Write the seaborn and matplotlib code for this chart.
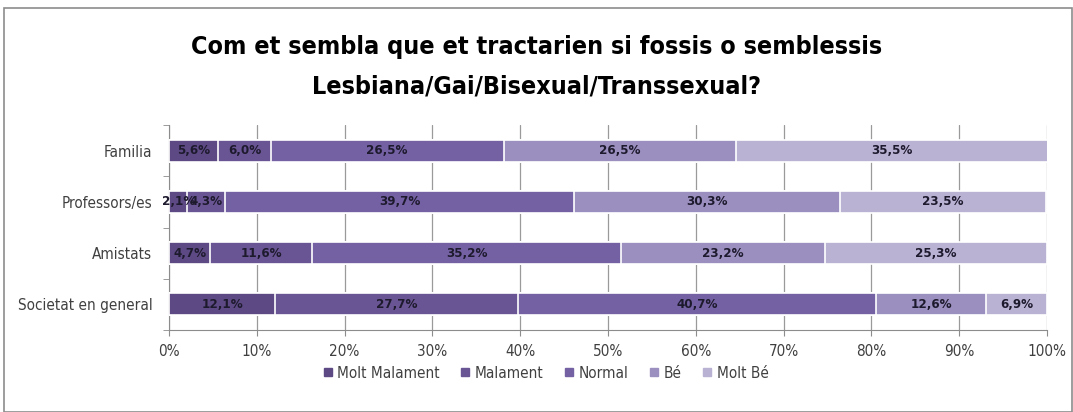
import matplotlib
matplotlib.use('Agg')
import matplotlib.pyplot as plt
import seaborn as sns
import numpy as np
import pandas as pd
from matplotlib.lines import Line2D
from matplotlib.patches import Rectangle

# Data
groups = ['Familia', 'Professors/es', 'Amistats', 'Societat en general']
levels = ['Molt Malament', 'Malament', 'Normal', 'Bé', 'Molt Bé']
molt_malament = [5.6, 2.1, 4.7, 12.1]
malament = [6.0, 4.3, 11.6, 27.7]
normal = [26.5, 39.7, 35.2, 40.7]
be = [26.5, 30.3, 23.2, 12.6]
molt_be = [35.5, 23.5, 25.3, 6.9]
colors = ['#5d4a84', '#6a5594', '#7461a3', '#9b8fbf', '#bab2d3']

sns.set_style('white')
plt.rcParams['font.family'] = ['DejaVu Sans']
plt.rcParams['font.stretch'] = 'condensed'

df = pd.DataFrame({'Grup': groups, 'Molt Malament': molt_malament, 'Malament': malament,
                   'Normal': normal, 'Bé': be, 'Molt Bé': molt_be})
cum = df[levels].cumsum(axis=1)

fig = plt.figure(figsize=(10.73, 4.12), dpi=100)
ax = fig.add_axes([169 / 1073, 1 - 330 / 412, (1047 - 169) / 1073, 205 / 412])

# stacked bars: draw cumulative totals from longest to shortest
for lev, col in reversed(list(zip(levels, colors))):
    sns.barplot(x=cum[lev], y=df['Grup'], orient='h', color=col, saturation=1, width=0.43,
                edgecolor='white', linewidth=1.2, ax=ax, zorder=3)

# value labels
for i, g in enumerate(groups):
    for lev in levels:
        v = df.loc[i, lev]
        xc = cum.loc[i, lev] - v / 2
        ax.text(xc, i, f'{v:.1f}%'.replace('.', ','), ha='center', va='center',
                fontsize=9.5, fontweight='bold', color='#1e1a2e', zorder=5)

ax.set_xlim(0, 100)
ax.set_ylim(3.5, -0.5)
ax.set_xticks(np.arange(0, 101, 10))
ax.set_xticklabels([f'{t}%' for t in range(0, 101, 10)], fontsize=11, color='#404040')
ax.tick_params(axis='y', labelsize=11, labelcolor='#404040', length=0, pad=12)
ax.tick_params(axis='x', length=4, color='#8c8c8c', direction='out', pad=6, bottom=True)
ax.set_xlabel('')
ax.set_ylabel('')
ax.grid(axis='x', color='#9a9a9a', linewidth=0.9, zorder=0)
ax.set_axisbelow(True)
for s in ['top', 'right']:
    ax.spines[s].set_visible(False)
for s in ['left', 'bottom']:
    ax.spines[s].set_color('#8c8c8c')

# minor ticks on y axis between categories
ax.set_yticks([-0.5, 0.5, 1.5, 2.5, 3.5], minor=True)
ax.tick_params(axis='y', which='minor', length=4, color='#8c8c8c', left=True)

fig.text(0.5, 1 - 47 / 412, 'Com et sembla que et tractarien si fossis o semblessis',
         ha='center', va='center', fontsize=18, fontweight='bold', color='#000000')
fig.text(0.5, 1 - 87 / 412, 'Lesbiana/Gai/Bisexual/Transsexual?',
         ha='center', va='center', fontsize=18, fontweight='bold', color='#000000')

handles = [Line2D([0], [0], marker='s', linestyle='', markersize=6, color=c) for c in colors]
fig.legend(handles, levels, loc='center', bbox_to_anchor=(545 / 1073, 1 - 373 / 412), ncol=5,
           frameon=False, fontsize=11, labelcolor='#404040', handletextpad=0.2,
           columnspacing=1.3, handlelength=0.8)

fig.patches.append(Rectangle((4 / 1073, 0), 1068 / 1073, 1 - 8 / 412, transform=fig.transFigure,
                             fill=False, edgecolor='#8c8c8c', linewidth=1.2))

fig.savefig('out.png', dpi=100)
